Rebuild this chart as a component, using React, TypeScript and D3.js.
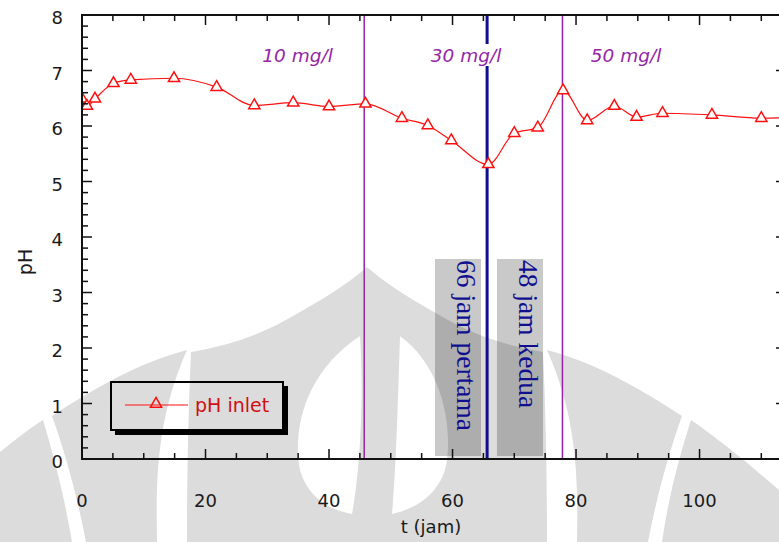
import { useEffect, useRef } from 'react'
import * as d3 from 'd3'

// pH inlet over time (jam)
const hours = [0, 0.8, 2.1, 5.1, 7.9, 14.9, 21.8, 27.9, 34.2, 40.0, 45.9, 51.8, 56.0, 59.8, 65.8, 70.0, 73.8, 77.9, 81.8, 86.2, 89.8, 94.0, 102.0, 110.0, 116.0]
const phInlet = [6.49, 6.36, 6.49, 6.77, 6.83, 6.86, 6.70, 6.37, 6.42, 6.35, 6.40, 6.14, 6.01, 5.74, 5.31, 5.87, 5.97, 6.64, 6.10, 6.36, 6.16, 6.23, 6.20, 6.14, 6.16]
const doseLines = [45.7, 77.8]
const splitLine = 65.6
const doseLabels = ['10 mg/l', '30 mg/l', '50 mg/l']
const phaseLabels = ['66 jam pertama', '48 jam kedua']
const xTicks = [0, 20, 40, 60, 80, 100]
const yTicks = [0, 1, 2, 3, 4, 5, 6, 7, 8]

const W = 779, H = 542
const SANS = '"DejaVu Sans", Verdana, sans-serif'
const RED = '#ff1010', PURPLE = '#9625a6', NAVY = '#10108f'

// faint logo watermark behind the plot
const WATERMARK = [
  'M0,452 C15,440 30,428 43,420 C55,460 65,500 72,542 L0,542 Z',
  'M187,350 C140,362 95,388 52,416 C66,455 78,500 86,542 L157,542 C156,480 156,420 187,350 Z',
  'M191,352 C230,345 262,335 300,312 C330,295 350,282 367,267 C384,282 404,295 434,312 C472,335 504,345 543,352 C546,420 547,480 547,542 L187,542 C187,480 188,420 191,352 Z',
  'M547,350 C594,362 639,388 682,416 C668,455 656,500 648,542 L577,542 C578,480 578,420 547,350 Z',
  'M691,420 C720,440 750,465 779,490 L779,542 L662,542 C668,500 678,460 691,420 Z',
]
const WATERMARK_HOLES = [
  'M360,336 C305,372 292,430 300,470 C308,498 330,510 352,514 C360,470 364,400 360,336 Z',
  'M400,336 C440,365 452,420 447,460 C443,490 420,508 392,514 C396,470 398,400 400,336 Z',
]

export default function App() {
  const svgRef = useRef<SVGSVGElement>(null)

  useEffect(() => {
    const svg = d3.select(svgRef.current)
    svg.selectAll('*').remove()

    const x = d3.scaleLinear().domain([0, 114]).range([82, 786])
    const y = d3.scaleLinear().domain([0, 8]).range([459, 15])
    const [x0, x1] = x.range(), [y0, y1] = y.range()

    // ── watermark ──
    svg.append('g').attr('fill', '#dcdcdc').selectAll('path').data(WATERMARK).join('path').attr('d', d => d)
    svg.append('g').attr('fill', '#fff').selectAll('path').data(WATERMARK_HOLES).join('path').attr('d', d => d)

    // ── phase boxes with rotated captions ──
    const boxes = [[435, 481], [497, 543]]
    boxes.forEach(([a, b], i) => {
      svg.append('rect').attr('x', a).attr('y', 259).attr('width', b - a).attr('height', 456 - 259)
        .attr('fill', '#000').attr('opacity', 0.21)
      svg.append('text').attr('transform', `translate(${a + 22},260) rotate(90)`)
        .attr('font-family', '"Liberation Serif", "Times New Roman", serif').attr('font-size', 27.5)
        .attr('fill', NAVY).text(phaseLabels[i])
    })

    // ── vertical marker lines ──
    doseLines.forEach(t => {
      svg.append('line').attr('x1', x(t)).attr('x2', x(t)).attr('y1', y1).attr('y2', y0)
        .attr('stroke', PURPLE).attr('stroke-width', 1.5)
    })
    svg.append('line').attr('x1', x(splitLine)).attr('x2', x(splitLine)).attr('y1', y1).attr('y2', y0)
      .attr('stroke', NAVY).attr('stroke-width', 3)

    // dose labels (white knock-out behind)
    const labelT = [34.9, 62.2, 88.1]
    doseLabels.forEach((s, i) => {
      const cx = x(labelT[i])
      svg.append('rect').attr('x', cx - 38).attr('y', 44).attr('width', 76).attr('height', 22).attr('fill', '#fff')
      svg.append('text').attr('x', cx).attr('y', 62).attr('text-anchor', 'middle')
        .attr('font-family', SANS).attr('font-style', 'italic').attr('font-size', 18.5)
        .attr('fill', PURPLE).text(s)
    })

    // ── data ──
    const pts = hours.map((t, i) => [t, phInlet[i]] as [number, number])
    svg.append('clipPath').attr('id', 'plot').append('rect')
      .attr('x', x0).attr('y', y1).attr('width', x1 - x0).attr('height', y0 - y1)
    const gd = svg.append('g').attr('clip-path', 'url(#plot)')
    const line = d3.line<[number, number]>().x(d => x(d[0])).y(d => y(d[1])).curve(d3.curveMonotoneX)
    gd.append('path').datum(pts).attr('d', line).attr('fill', 'none').attr('stroke', RED).attr('stroke-width', 1.2)
    const tri = d3.symbol().type(d3.symbolTriangle).size(55)
    gd.selectAll('path.m').data(pts).join('path').attr('class', 'm')
      .attr('d', tri).attr('transform', d => `translate(${x(d[0])},${y(d[1])})`)
      .attr('fill', '#fff').attr('stroke', RED).attr('stroke-width', 1.5)

    // ── frame + ticks ──
    const ax = svg.append('g').attr('stroke', '#111')
    ax.append('rect').attr('x', x0).attr('y', y1).attr('width', x1 - x0).attr('height', y0 - y1)
      .attr('fill', 'none').attr('stroke-width', 2)
    d3.range(0, 115, 5).forEach(t => {
      const len = t % 20 === 0 ? 10 : 6
      ax.append('line').attr('x1', x(t)).attr('x2', x(t)).attr('y1', y0).attr('y2', y0 - len).attr('stroke-width', 1.5)
      ax.append('line').attr('x1', x(t)).attr('x2', x(t)).attr('y1', y1).attr('y2', y1 + len).attr('stroke-width', 1.5)
    })
    d3.range(0, 40.5, 1).forEach(k => {
      const v = k / 5
      const len = k % 5 === 0 ? 10 : 6
      ax.append('line').attr('x1', x0).attr('x2', x0 + len).attr('y1', y(v)).attr('y2', y(v)).attr('stroke-width', 1.5)
      ax.append('line').attr('x1', x1).attr('x2', x1 - len).attr('y1', y(v)).attr('y2', y(v)).attr('stroke-width', 1.5)
    })

    const lab = svg.append('g').attr('font-family', SANS).attr('font-size', 18).attr('fill', '#1a1a1a')
    xTicks.forEach(t => lab.append('text').attr('x', x(t)).attr('y', 507).attr('text-anchor', 'middle').text(t))
    yTicks.forEach(v => lab.append('text').attr('x', 63).attr('y', y(v) + 9).attr('text-anchor', 'end').text(v))
    lab.append('text').attr('x', 431).attr('y', 533).attr('text-anchor', 'middle').text('t (jam)')
    lab.append('text').attr('transform', 'translate(32,262) rotate(-90)').attr('text-anchor', 'middle').attr('font-size', 19).text('pH')

    // ── legend ──
    const lg = svg.append('g')
    lg.append('rect').attr('x', 283).attr('y', 386).attr('width', 5).attr('height', 48).attr('fill', '#000')
    lg.append('rect').attr('x', 115).attr('y', 430).attr('width', 173).attr('height', 5).attr('fill', '#000')
    lg.append('rect').attr('x', 111).attr('y', 382).attr('width', 172).attr('height', 48)
      .attr('fill', 'none').attr('stroke', '#000').attr('stroke-width', 2)
    lg.append('line').attr('x1', 125).attr('x2', 188).attr('y1', 405).attr('y2', 405).attr('stroke', RED).attr('stroke-width', 1.2)
    lg.append('path').attr('d', tri).attr('transform', 'translate(156,404)')
      .attr('fill', 'none').attr('stroke', RED).attr('stroke-width', 1.5)
    lg.append('text').attr('x', 195).attr('y', 412).attr('font-family', SANS).attr('font-size', 19)
      .attr('fill', '#d01010').text('pH inlet')
  }, [])

  return (
    <svg ref={svgRef} width={W} height={H}
      style={{ position: 'absolute', left: 0, top: 0, background: '#fff', display: 'block' }} />
  )
}
